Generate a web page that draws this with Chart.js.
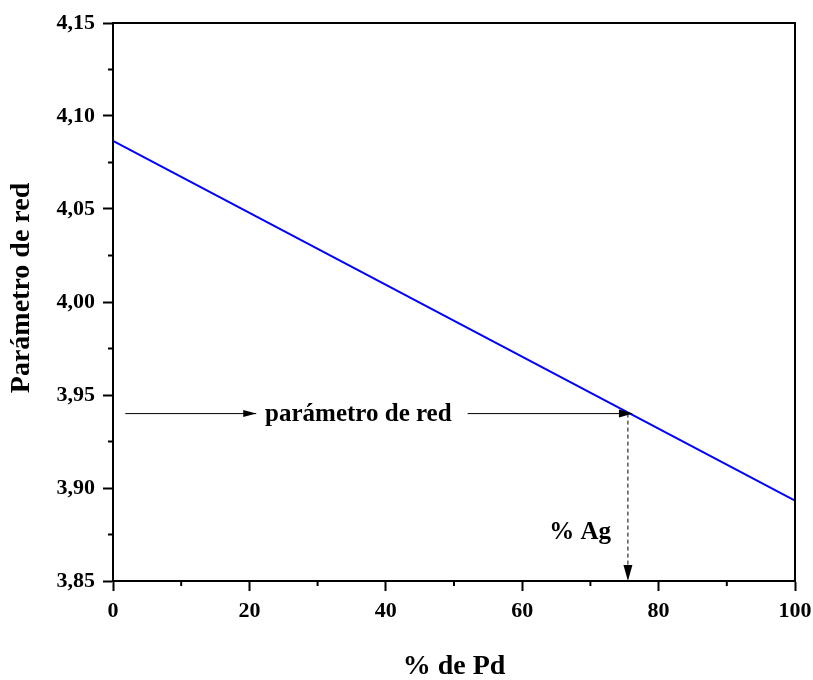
<!DOCTYPE html>
<html>
<head>
<meta charset="utf-8">
<script src="https://cdn.jsdelivr.net/npm/chart.js@4"></script>
<style>
  html, body { margin: 0; padding: 0; background: #fff; }
  #wrap { width: 813px; height: 680px; }
</style>
</head>
<body>
<div id="wrap"><canvas id="chart"></canvas></div>
<script>
// data
const pdPercent = [0, 100];
const latticeParam = [4.0866, 3.8932];

const xMinorTicks = [10, 30, 50, 70, 90];
const yMinorTicks = [3.875, 3.925, 3.975, 4.025, 4.075, 4.125];

// marker: lattice parameter 3.94 -> ~75.5 % Pd
const markerParam = 3.94;
const markerPd = 75.5;
const arrowStartPd = 1.8;
const arrowHeadPd = 21;
const labelStartPd = 22.3;
const resumePd = 52;
const agLabelPos = [68.5, 3.876];

const serif = '"Liberation Serif", "Times New Roman", serif';

function arrowHead(ctx, x, y, dir, len, half) {
    ctx.beginPath();
    if (dir === 'right') {
        ctx.moveTo(x, y);
        ctx.lineTo(x - len, y - half);
        ctx.lineTo(x - len, y + half);
    } else {
        ctx.moveTo(x, y);
        ctx.lineTo(x - half, y - len);
        ctx.lineTo(x + half, y - len);
    }
    ctx.closePath();
    ctx.fill();
}

const extras = {
    id: 'extras',
    afterDraw(chart) {
        const { ctx, chartArea: a, scales: { x, y } } = chart;
        ctx.save();
        ctx.strokeStyle = '#000';
        ctx.fillStyle = '#000';

        // top and right frame
        ctx.lineWidth = 2;
        ctx.beginPath();
        ctx.moveTo(a.left, a.top);
        ctx.lineTo(a.right, a.top);
        ctx.lineTo(a.right, a.bottom);
        ctx.stroke();

        // minor ticks
        xMinorTicks.forEach(v => {
            const px = x.getPixelForValue(v);
            ctx.beginPath();
            ctx.moveTo(px, a.bottom);
            ctx.lineTo(px, a.bottom + 5);
            ctx.stroke();
        });
        yMinorTicks.forEach(v => {
            const py = y.getPixelForValue(v);
            ctx.beginPath();
            ctx.moveTo(a.left, py);
            ctx.lineTo(a.left - 5, py);
            ctx.stroke();
        });

        // horizontal arrow
        const hy = y.getPixelForValue(markerParam);
        const mx = x.getPixelForValue(markerPd);
        ctx.lineWidth = 1;
        ctx.beginPath();
        ctx.moveTo(x.getPixelForValue(arrowStartPd), hy);
        ctx.lineTo(x.getPixelForValue(arrowHeadPd), hy);
        ctx.moveTo(x.getPixelForValue(resumePd), hy);
        ctx.lineTo(mx, hy);
        ctx.stroke();
        arrowHead(ctx, x.getPixelForValue(arrowHeadPd), hy, 'right', 13, 3.5);
        arrowHead(ctx, mx + 5, hy, 'right', 14, 4);

        // dashed vertical arrow
        ctx.setLineDash([4, 3]);
        ctx.beginPath();
        ctx.moveTo(mx, hy);
        ctx.lineTo(mx, a.bottom - 12);
        ctx.stroke();
        ctx.setLineDash([]);
        arrowHead(ctx, mx, a.bottom, 'down', 16, 4.5);

        // labels
        ctx.font = 'bold 25px ' + serif;
        ctx.textBaseline = 'middle';
        ctx.textAlign = 'left';
        ctx.fillText('parámetro de red', x.getPixelForValue(labelStartPd), hy + 1);
        ctx.textAlign = 'center';
        ctx.fillText('% Ag', x.getPixelForValue(agLabelPos[0]), y.getPixelForValue(agLabelPos[1]));
        ctx.restore();
    }
};

new Chart(document.getElementById('chart'), {
    type: 'line',
    data: {
        datasets: [{
            data: pdPercent.map((p, i) => ({ x: p, y: latticeParam[i] })),
            borderColor: '#0000ff',
            borderWidth: 2,
            pointRadius: 0,
            tension: 0,
            fill: false
        }]
    },
    options: {
        responsive: true,
        maintainAspectRatio: false,
        animation: false,
        layout: { padding: { top: 23, right: 18, left: 0, bottom: -4 } },
        plugins: { legend: { display: false }, tooltip: { enabled: false } },
        scales: {
            x: {
                type: 'linear',
                min: 0, max: 100,
                afterFit: (s) => { s.height = 103; s.paddingRight = 0; s.paddingLeft = 0; },
                ticks: { stepSize: 20, padding: 7, color: '#000', font: { family: serif, size: 22, weight: 'bold' } },
                grid: { drawOnChartArea: false, tickLength: 10, tickWidth: 2, tickColor: '#000' },
                border: { color: '#000', width: 2 },
                title: { display: true, text: '% de Pd', color: '#000', padding: { top: 0, bottom: 0 }, font: { family: serif, size: 28, weight: 'bold' } }
            },
            y: {
                min: 3.85, max: 4.15,
                afterFit: (s) => { s.width = 113; s.paddingTop = 0; s.paddingBottom = 0; },
                ticks: {
                    stepSize: 0.05, padding: 8, color: '#000',
                    font: { family: serif, size: 22, weight: 'bold' },
                    callback: (v) => v.toFixed(2).replace('.', ',')
                },
                grid: { drawOnChartArea: false, tickLength: 10, tickWidth: 2, tickColor: '#000' },
                border: { color: '#000', width: 2 },
                title: { display: true, text: '\u2002\u2002Parámetro de red', color: '#000', padding: { top: 5, bottom: 0 }, font: { family: serif, size: 28, weight: 'bold' } }
            }
        }
    },
    plugins: [extras]
});
</script>
</body>
</html>
